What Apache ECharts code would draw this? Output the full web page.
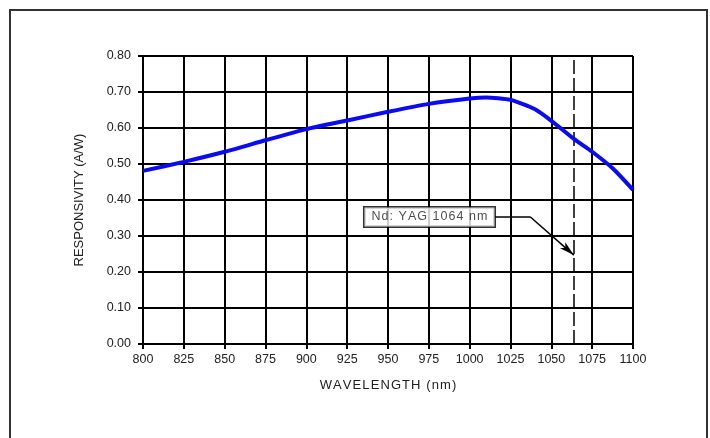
<!DOCTYPE html>
<html>
<head>
<meta charset="utf-8">
<script src="https://cdn.jsdelivr.net/npm/echarts@6/dist/echarts.min.js"></script>
<style>
html,body{margin:0;padding:0;background:#fff;}
#chart{width:710px;height:438px;}
</style>
</head>
<body>
<div id="chart"></div>
<script>
// ---- data ----
const wavelengths = [800, 825, 850, 875, 900, 925, 950, 975, 1000, 1010, 1025, 1040, 1050, 1064, 1075, 1088, 1100];
const responsivity = [0.481, 0.506, 0.534, 0.566, 0.597, 0.621, 0.645, 0.667, 0.682, 0.685, 0.678, 0.652, 0.620, 0.569, 0.534, 0.486, 0.428];
const xTicks = [800, 825, 850, 875, 900, 925, 950, 975, 1000, 1025, 1050, 1075, 1100];
const yTicks = [0.00, 0.10, 0.20, 0.30, 0.40, 0.50, 0.60, 0.70, 0.80];
const laserLine = 1064;
const noteText = 'Nd: YAG 1064 nm';
const notePos = [975.4, 0.353];
const leaderPts = [[1015.5, 0.3535], [1037, 0.3535], [1063.8, 0.247]];
const xName = 'WAVELENGTH (nm)';
const yName = 'RESPONSIVITY (A/W)';

const HS = '\u200A';
const spaced = s => s.split('').join(HS);

const chart = echarts.init(document.getElementById('chart'));
const fontFam = '"Liberation Sans", Arial, sans-serif';
const option = {
  animation: false,
  backgroundColor: '#fff',
  graphic: [{
    type: 'rect',
    shape: {x: 10, y: 10, width: 697, height: 450},
    style: {fill: 'none', stroke: '#333', lineWidth: 2},
    silent: true
  }],
  grid: {left: 143, right: 77, top: 56, bottom: 94, containLabel: false},
  xAxis: {
    type: 'value',
    min: xTicks[0], max: xTicks[xTicks.length - 1], interval: 25,
    name: spaced(xName), nameLocation: 'middle', nameGap: 35,
    nameTextStyle: {fontFamily: fontFam, fontSize: 13, color: '#222'},
    axisLine: {show: true, lineStyle: {color: '#000', width: 2}},
    axisTick: {show: true, length: 5, lineStyle: {color: '#000', width: 2}},
    axisLabel: {margin: 9, fontFamily: fontFam, fontSize: 12.5, color: '#222',
      formatter: v => String(v)},
    splitLine: {show: true, lineStyle: {color: '#000', width: 2}}
  },
  yAxis: {
    type: 'value',
    min: yTicks[0], max: yTicks[yTicks.length - 1], interval: 0.1,
    name: yName, nameLocation: 'middle', nameGap: 57, nameRotate: 90,
    nameTextStyle: {fontFamily: fontFam, fontSize: 13, color: '#222'},
    axisLine: {show: true, lineStyle: {color: '#000', width: 2}},
    axisTick: {show: true, length: 5, lineStyle: {color: '#000', width: 2}},
    axisLabel: {margin: 12, fontFamily: fontFam, fontSize: 12.5, color: '#222',
      formatter: v => v.toFixed(2)},
    splitLine: {show: true, lineStyle: {color: '#000', width: 2}}
  },
  series: [
    {
      type: 'line',
      data: wavelengths.map((w, i) => [w, responsivity[i]]),
      smooth: 0.2,
      showSymbol: false,
      lineStyle: {color: '#0a0af5', width: 4},
      z: 5,
      markLine: {
        silent: true, symbol: 'none', animation: false,
        label: {show: false},
        lineStyle: {color: '#000', width: 1.5, type: [14, 4]},
        data: [{xAxis: laserLine}],
        z: 4
      }
    },
    {
      type: 'scatter',
      data: [notePos],
      symbolSize: 1,
      itemStyle: {color: 'rgba(0,0,0,0)'},
      z: 10,
      label: {
        show: true, position: 'inside',
        formatter: spaced(noteText),
        fontFamily: fontFam, fontSize: 12.5, color: '#222',
        backgroundColor: '#fff', borderColor: '#000', borderWidth: 1.5,
        lineHeight: 13, align: 'center',
        padding: [3, 7]
      },
      markLine: {
        silent: true, animation: false,
        symbol: ['none', 'arrow'], symbolSize: [6, 15],
        label: {show: false},
        lineStyle: {color: '#000', width: 1.5, type: 'solid'},
        data: [
          [{coord: leaderPts[0], symbol: 'none'}, {coord: leaderPts[1], symbol: 'none'}],
          [{coord: leaderPts[1], symbol: 'none'}, {coord: leaderPts[2], symbol: 'arrow'}]
        ]
      }
    }
  ]
};
chart.setOption(option);
</script>
</body>
</html>
